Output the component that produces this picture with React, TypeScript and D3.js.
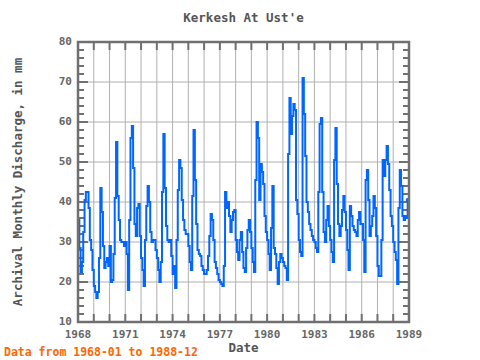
import * as d3 from "d3";

// monthly discharge, mm, 1968-01 .. 1988-12 (one row per year)
const START_YEAR = 1968;
const END_YEAR = 1989;
const yearlyValues: number[][] = [
    [35.5, 28.5, 22.5, 25, 32.5, 40.5, 42.5, 42.5, 38.5, 30.5, 28, 23],
    [19, 17.5, 16, 17.5, 26, 43.5, 37.5, 29, 23.5, 25, 26, 24],
    [29, 20, 20.5, 27, 41, 55, 41.5, 35.5, 30.5, 30, 30, 29],
    [30, 27, 18, 35.5, 56, 59, 48.5, 34.5, 31.5, 38.5, 39.5, 31.5],
    [26, 23, 19, 30.5, 39, 44, 40, 32.5, 30, 30.5, 30.5, 28],
    [26, 23, 20, 25, 42.5, 57, 43.5, 34, 30.5, 30, 30.5, 26.5],
    [22, 24, 18.5, 30.5, 43, 50.5, 48.5, 40.5, 35.5, 33, 32, 32],
    [29, 25, 23, 41.5, 58, 45.5, 34.5, 28, 27, 26.5, 24, 23],
    [22, 22, 23, 26.5, 31.5, 37, 35.5, 30.5, 25, 23.5, 22, 20.5],
    [20, 19.5, 19, 24, 42.5, 38.5, 40, 36.5, 32.5, 35.5, 37.5, 38],
    [30.5, 27.5, 25.5, 30.5, 32.5, 27.5, 23.5, 22.5, 28.5, 33, 35.5, 32.5],
    [28.5, 25, 22.5, 45.5, 60, 56, 40.5, 49.5, 47.5, 44.5, 36.5, 32.5],
    [30.5, 27, 23, 33.5, 44, 28.5, 27, 23.5, 19.5, 25, 27, 26],
    [25, 24, 23.5, 20.5, 52, 66, 57, 61.5, 64.5, 63, 40.5, 37],
    [30.5, 27.5, 26.5, 71, 62, 51.5, 40, 37.5, 34.5, 33, 31.5, 30.5],
    [30, 28.5, 27.5, 42.5, 59.5, 61, 42.5, 32.5, 30, 35.5, 39, 34],
    [30.5, 27.5, 25, 50.5, 58.5, 44.5, 34.5, 31.5, 34, 38, 41.5, 37.5],
    [33, 28, 23, 39, 36.5, 34, 33, 32.5, 31.5, 35.5, 37.5, 34.5],
    [34.5, 30.5, 22.5, 45.5, 48, 40.5, 31.5, 34, 36.5, 41.5, 38.5, 31.5],
    [24, 21.5, 21.5, 30.5, 50.5, 46.5, 50.5, 54, 49.5, 43, 36.5, 34],
    [30, 27.5, 25.5, 19.5, 38.5, 48, 44, 36.5, 35.5, 36.5, 36, 40.5],
];
const xTickYears = [1968, 1971, 1974, 1977, 1980, 1983, 1986, 1989];
const yTicks = [10, 20, 30, 40, 50, 60, 70, 80];

const W = 480;
const H = 360;
const PLOT = { left: 78, right: 409, top: 42, bottom: 322 };
const FONT = "'DejaVu Sans Mono', monospace";
const AXIS_COLOR = "#707070";

type Pt = { date: Date; value: number };

export default function App() {
    const data: Pt[] = [];
    yearlyValues.forEach((row, yi) =>
        row.forEach((v, m) => data.push({ date: new Date(START_YEAR + yi, m, 1), value: v }))
    );

    const x = d3
        .scaleTime()
        .domain([new Date(START_YEAR, 0, 1), new Date(END_YEAR, 0, 1)])
        .range([PLOT.left, PLOT.right]);
    const y = d3.scaleLinear().domain([10, 80]).range([PLOT.bottom, PLOT.top]);

    const line = d3
        .line<Pt>()
        .x((d) => x(d.date))
        .y((d) => y(d.value))
        .curve(d3.curveStepAfter);

    const years = d3.range(START_YEAR, END_YEAR + 1);
    const minorY = d3.range(10, 81, 2);
    const last = data[data.length - 1];

    return (
        <div style={{ position: "absolute", left: 0, top: 0 }}>
            <svg width={W} height={H} style={{ display: "block", background: "#fff" }}>
                {/* grid */}
                {years.map((yr) => (
                    <line key={"gx" + yr} x1={x(new Date(yr, 0, 1))} x2={x(new Date(yr, 0, 1))}
                        y1={PLOT.top} y2={PLOT.bottom} stroke="#b0b0b0" strokeWidth={1} />
                ))}
                {yTicks.map((t) => (
                    <line key={"gy" + t} x1={PLOT.left} x2={PLOT.right} y1={y(t)} y2={y(t)}
                        stroke="#b0b0b0" strokeWidth={1} />
                ))}

                {/* ticks */}
                {minorY.map((t) => {
                    const len = t % 10 === 0 ? 10 : 6;
                    return (
                        <g key={"ty" + t} stroke={AXIS_COLOR} strokeWidth={2}>
                            <line x1={PLOT.left} x2={PLOT.left + len} y1={y(t)} y2={y(t)} />
                            <line x1={PLOT.right} x2={PLOT.right - len} y1={y(t)} y2={y(t)} />
                        </g>
                    );
                })}
                {years.map((yr) => {
                    const xx = x(new Date(yr, 0, 1));
                    return (
                        <g key={"tx" + yr} stroke={AXIS_COLOR} strokeWidth={2}>
                            <line x1={xx} x2={xx} y1={PLOT.top} y2={PLOT.top + 8} />
                            <line x1={xx} x2={xx} y1={PLOT.bottom} y2={PLOT.bottom - 8} />
                        </g>
                    );
                })}

                {/* series */}
                <path d={line(data) ?? ""} fill="none" stroke="#0066ff" strokeWidth={2} />
                <circle cx={x(last.date)} cy={y(last.value)} r={2} fill="#0066ff" />

                {/* frame */}
                <rect x={PLOT.left} y={PLOT.top} width={PLOT.right - PLOT.left}
                    height={PLOT.bottom - PLOT.top} fill="none" stroke={AXIS_COLOR} strokeWidth={2.5} />

                {/* labels */}
                <g fontFamily={FONT} fontWeight="bold" fontSize={11} fill="#666">
                    {yTicks.map((t) => (
                        <text key={"ly" + t} x={PLOT.left - 6} y={y(t) - 1} dy="0.35em" textAnchor="end">{t}</text>
                    ))}
                    {xTickYears.map((yr) => (
                        <text key={"lx" + yr} x={x(new Date(yr, 0, 1))} y={338} textAnchor="middle">{yr}</text>
                    ))}
                </g>
                <g fontFamily={FONT} fontWeight="bold" fontSize={12.5} fill="#555">
                    <text x={(PLOT.left + PLOT.right) / 2} y={22} textAnchor="middle">Kerkesh At Ust'e</text>
                    <text x={(PLOT.left + PLOT.right) / 2} y={352} textAnchor="middle">Date</text>
                    <text transform={`translate(22,${(PLOT.top + PLOT.bottom) / 2}) rotate(-90)`} textAnchor="middle">
                        Archival Monthly Discharge, in mm
                    </text>
                </g>
                <text x={4} y={356} fontFamily={FONT} fontWeight="bold" fontSize={11.5} fill="#ff6600">
                    Data from 1968-01 to 1988-12
                </text>
            </svg>
        </div>
    );
}
